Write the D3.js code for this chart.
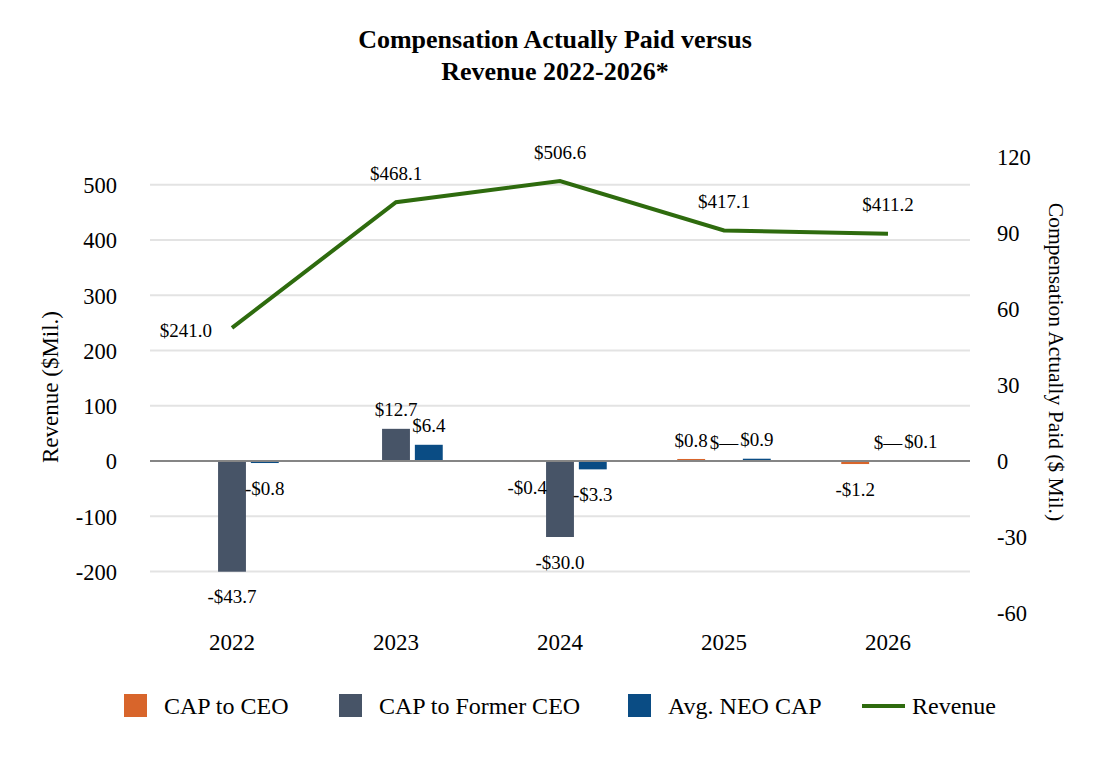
<!DOCTYPE html>
<html>
<head>
<meta charset="utf-8">
<script src="https://cdn.jsdelivr.net/npm/d3@7"></script>
<style>
  body { margin: 0; background: #fff; }
  svg text { font-family: "Liberation Serif", "Times New Roman", serif; fill: #000; }
</style>
</head>
<body>
<div id="chart"></div>
<script>
// chart data
var years = ["2022", "2023", "2024", "2025", "2026"];
var revenue = [241.0, 468.1, 506.6, 417.1, 411.2];
var capCeo = [null, null, -0.4, 0.8, -1.2];
var capFormerCeo = [-43.7, 12.7, -30.0, 0, 0];
var avgNeoCap = [-0.8, 6.4, -3.3, 0.9, 0.1];
var seriesNames = ["CAP to CEO", "CAP to Former CEO", "Avg. NEO CAP"];
var leftTicks = [-200, -100, 0, 100, 200, 300, 400, 500];
var rightTicks = [-60, -30, 0, 30, 60, 90, 120];

var colors = ["#D8652B", "#475467", "#0A4C84"];
var lineColor = "#2E6B0E";

var svgWidth = 1112, svgHeight = 760;
var margin = {top: 157, right: 142, bottom: 147, left: 150};
var plotW = svgWidth - margin.left - margin.right,
    plotH = svgHeight - margin.top - margin.bottom;

var svg = d3.select("#chart").append("svg")
  .attr("width", svgWidth)
  .attr("height", svgHeight);

// scales
var x0 = d3.scaleBand()
  .domain(years)
  .range([margin.left, margin.left + plotW])
  .paddingInner(0.43)
  .paddingOuter(0.215);

var x1 = d3.scaleBand()
  .domain(seriesNames)
  .range([0, x0.bandwidth()])
  .paddingInner(0.15);

var yLeft = d3.scaleLinear()
  .domain([-275, 550])
  .range([margin.top + plotH, margin.top]);

var yRight = d3.scaleLinear()
  .domain([-60, 120])
  .range([margin.top + plotH, margin.top]);

// gridlines
svg.append("g")
  .selectAll("line")
  .data(leftTicks.filter(function(d){ return d !== 0; }))
  .enter()
  .append("line")
  .attr("x1", margin.left)
  .attr("x2", margin.left + plotW)
  .attr("y1", function(d){ return yLeft(d); })
  .attr("y2", function(d){ return yLeft(d); })
  .attr("stroke", "#e3e3e3")
  .attr("stroke-width", 2);

var plainFmt = function(d){ return String(d); };

// left axis
var leftAxis = svg.append("g")
  .attr("transform", "translate(" + (margin.left - 33) + ",0)")
  .call(d3.axisLeft(yLeft).tickValues(leftTicks).tickFormat(plainFmt).tickSize(0).tickPadding(0));
leftAxis.select(".domain").remove();
leftAxis.selectAll("text").style("font-size", "22.5px").attr("dy", "0.35em");

// right axis
var rightAxis = svg.append("g")
  .attr("transform", "translate(" + (margin.left + plotW + 27) + ",0)")
  .call(d3.axisRight(yRight).tickValues(rightTicks).tickFormat(plainFmt).tickSize(0).tickPadding(0));
rightAxis.select(".domain").remove();
rightAxis.selectAll("text").style("font-size", "22.5px").attr("dy", "0.35em");

// bottom labels
var xAxis = svg.append("g")
  .attr("transform", "translate(0," + (margin.top + plotH + 19) + ")")
  .call(d3.axisBottom(x0).tickSize(0).tickPadding(0));
xAxis.select(".domain").remove();
xAxis.selectAll("text").style("font-size", "23px").attr("dy", "0.8em");

// bars
var barData = [];
years.forEach(function(year, i){
  [capCeo, capFormerCeo, avgNeoCap].forEach(function(arr, s){
    barData.push({year: year, series: seriesNames[s], value: arr[i], color: colors[s]});
  });
});

var bars = barData.filter(function(d){ return d.value !== null; });

svg.selectAll("rect.bar")
  .data(bars)
  .enter()
  .append("rect")
  .attr("class", "bar")
  .attr("x", function(d){ return x0(d.year) + x1(d.series); })
  .attr("width", x1.bandwidth())
  .attr("y", function(d){ return Math.min(yRight(d.value), yRight(0)); })
  .attr("height", function(d){ return Math.abs(yRight(d.value) - yRight(0)); })
  .attr("fill", function(d){ return d.color; });

// zero line
svg.append("line")
  .attr("x1", margin.left)
  .attr("x2", margin.left + plotW)
  .attr("y1", yLeft(0))
  .attr("y2", yLeft(0))
  .attr("stroke", "#858585")
  .attr("stroke-width", 2);

// bar labels
function fmt(v){
  if (v === 0) return "$\u2014";
  return (v < 0 ? "-$" : "$") + Math.abs(v).toFixed(1);
}
svg.selectAll("text.barlabel")
  .data(bars)
  .enter()
  .append("text")
  .attr("class", "barlabel")
  .attr("x", function(d){ return x0(d.year) + x1(d.series) + x1.bandwidth() / 2; })
  .attr("y", function(d){
    if (d.value < 0) return yRight(d.value) + 25;
    return yRight(d.value) - 19;
  })
  .attr("text-anchor", "middle")
  .attr("dy", "0.35em")
  .style("font-size", "19px")
  .text(function(d){ return fmt(d.value); });

// revenue line
var line = d3.line()
  .x(function(d, i){ return x0(years[i]) + x0.bandwidth() / 2; })
  .y(function(d){ return yLeft(d); });

svg.append("path")
  .datum(revenue)
  .attr("d", line)
  .attr("fill", "none")
  .attr("stroke", lineColor)
  .attr("stroke-width", 4);

svg.selectAll("text.linelabel")
  .data(revenue)
  .enter()
  .append("text")
  .attr("class", "linelabel")
  .attr("x", function(d, i){
    var cx = x0(years[i]) + x0.bandwidth() / 2;
    return i === 0 ? cx - 20 : cx;
  })
  .attr("y", function(d, i){ return i === 0 ? yLeft(d) + 3 : yLeft(d) - 29; })
  .attr("text-anchor", function(d, i){ return i === 0 ? "end" : "middle"; })
  .attr("dy", "0.35em")
  .style("font-size", "19px")
  .text(function(d){ return "$" + d.toFixed(1); });

// title
svg.append("text")
  .attr("x", 555).attr("y", 48)
  .attr("text-anchor", "middle")
  .style("font-size", "26px").style("font-weight", "bold")
  .text("Compensation Actually Paid versus");
svg.append("text")
  .attr("x", 555).attr("y", 80)
  .attr("text-anchor", "middle")
  .style("font-size", "26px").style("font-weight", "bold")
  .text("Revenue 2022-2026*");

// axis titles
svg.append("text")
  .attr("transform", "translate(50,387) rotate(-90)")
  .attr("text-anchor", "middle")
  .attr("dy", "0.35em")
  .style("font-size", "23px")
  .text("Revenue ($Mil.)");
svg.append("text")
  .attr("transform", "translate(1057,362) rotate(90)")
  .attr("text-anchor", "middle")
  .attr("dy", "0.35em")
  .style("font-size", "21.5px")
  .text("Compensation Actually Paid ($ Mil.)");

// legend
var legendItems = [
  {name: seriesNames[0], color: colors[0], x: 124, type: "rect"},
  {name: seriesNames[1], color: colors[1], x: 339, type: "rect"},
  {name: seriesNames[2], color: colors[2], x: 628, type: "rect"},
  {name: "Revenue", color: lineColor, x: 862, type: "line"}
];
var legend = svg.append("g");
legendItems.forEach(function(item){
  if (item.type === "rect") {
    legend.append("rect")
      .attr("x", item.x).attr("y", 694)
      .attr("width", 23).attr("height", 23)
      .attr("fill", item.color);
    legend.append("text")
      .attr("x", item.x + 40).attr("y", 706)
      .attr("dy", "0.35em")
      .style("font-size", "24px")
      .text(item.name);
  } else {
    legend.append("line")
      .attr("x1", item.x).attr("x2", item.x + 43)
      .attr("y1", 706).attr("y2", 706)
      .attr("stroke", item.color).attr("stroke-width", 4);
    legend.append("text")
      .attr("x", item.x + 50).attr("y", 706)
      .attr("dy", "0.35em")
      .style("font-size", "24px")
      .text(item.name);
  }
});
</script>
</body>
</html>
